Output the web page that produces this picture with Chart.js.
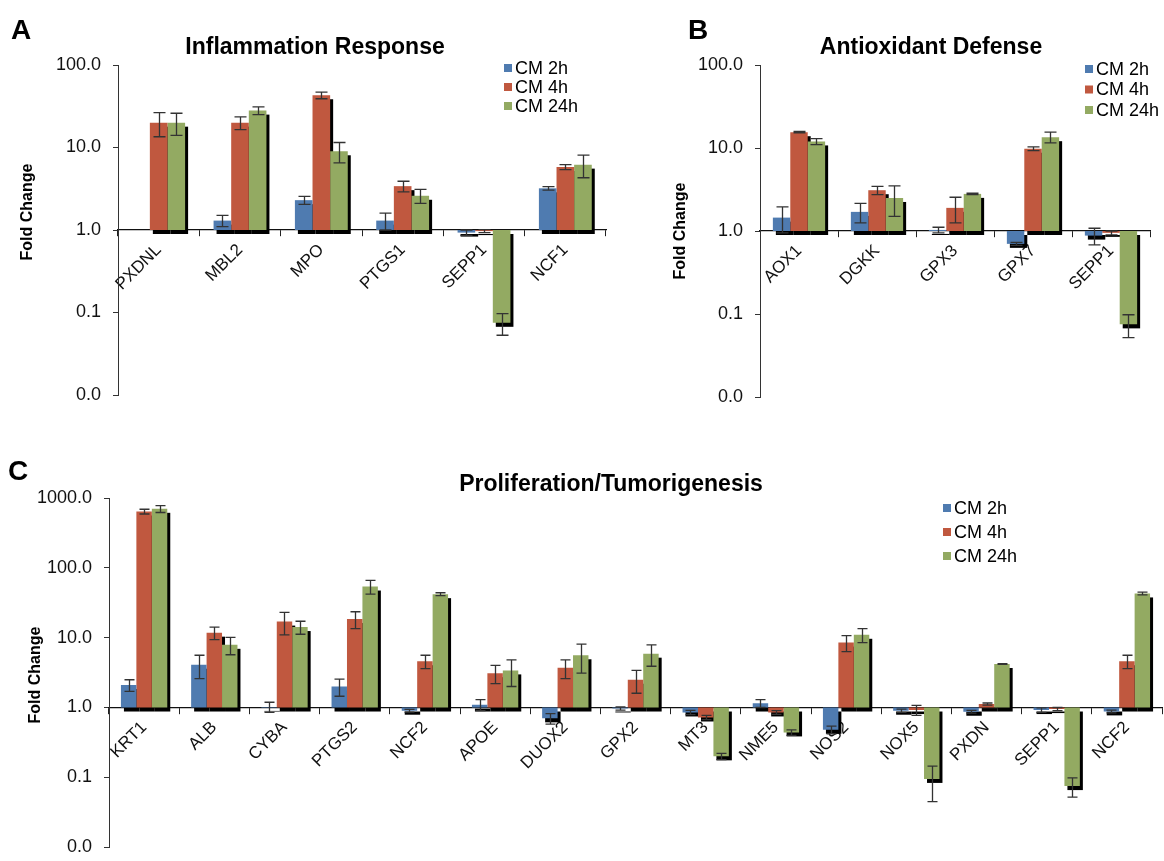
<!DOCTYPE html>
<html>
<head>
<meta charset="utf-8">
<script src="https://cdn.jsdelivr.net/npm/chart.js@4.4.1/dist/chart.umd.min.js"></script>
<style>
  html, body { margin: 0; padding: 0; background: #fff; overflow: hidden; width: 1164px; height: 861px; }
  canvas { position: absolute; }
</style>
</head>
<body>
<canvas id="chartA" width="620" height="420" style="left:0;top:0"></canvas>
<canvas id="chartB" width="524" height="420" style="left:640px;top:0"></canvas>
<canvas id="chartC" width="1164" height="430" style="left:0;top:440px"></canvas>
<script>
const seriesLabels = ["CM 2h", "CM 4h", "CM 24h"];
const seriesColors = ["#4f7bb0", "#c0583f", "#93aa62"];

// A - Inflammation Response
const inflamGenes = ["PXDNL", "MBL2", "MPO", "PTGS1", "SEPP1", "NCF1"];
const inflam2h = [null, 1.3, 2.3, 1.3, 0.93, 3.2];
const inflam4h = [20, 20, 43, 3.4, 0.97, 5.8];
const inflam24h = [20, 28, 9, 2.6, 0.075, 6.2];
const inflam2hErr = [null, 0.2, 0.25, 0.3, 0.07, 0.15];
const inflam4hErr = [6.5, 3.5, 4, 0.5, 0.04, 0.4];
const inflam24hErr = [6, 3, 2.5, 0.5, 0.022, 1.9];

// B - Antioxidant Defense
const antioxGenes = ["AOX1", "DGKK", "GPX3", "GPX7", "SEPP1"];
const antiox2h = [1.45, 1.7, 1.03, 0.7, 0.88];
const antiox4h = [15.5, 3.1, 1.9, 9.8, 0.95];
const antiox24h = [12, 2.5, 2.8, 13.5, 0.075];
const antiox2hErr = [0.5, 0.45, 0.08, 0.03, 0.2];
const antiox4hErr = [0.3, 0.35, 0.65, 0.5, 0.05];
const antiox24hErr = [1, 1.0, 0.05, 2, 0.023];

// C - Proliferation/Tumorigenesis
const prolifGenes = ["KRT1", "ALB", "CYBA", "PTGS2", "NCF2", "APOE", "DUOX2", "GPX2", "MT3", "NME5", "NOS2", "NOX5", "PXDN", "SEPP1", "NCF2"];
const prolif2h = [2.1, 4.1, 1.02, 2.0, 0.9, 1.1, 0.7, 0.97, 0.85, 1.15, 0.48, 0.9, 0.87, 0.92, 0.88];
const prolif4h = [640, 11.8, 17, 18.5, 4.6, 3.1, 3.7, 2.5, 0.72, 0.85, 8.5, 0.92, 1.12, 0.95, 4.6];
const prolif24h = [700, 7.9, 14.2, 54, 42, 3.4, 5.6, 5.9, 0.2, 0.44, 11, 0.095, 4.2, 0.075, 43];
const prolif2hErr = [0.4, 1.5, 0.17, 0.55, 0.04, 0.2, 0.12, 0.05, 0.06, 0.15, 0.06, 0.05, 0.04, 0.07, 0.04];
const prolif4hErr = [50, 2.4, 6, 5, 1.0, 0.9, 1.1, 0.9, 0.05, 0.05, 2.2, 0.15, 0.04, 0.05, 1.0];
const prolif24hErr = [80, 2.2, 3, 12, 2, 1.4, 2.5, 2, 0.02, 0.04, 2.5, 0.05, 0.05, 0.023, 2];

const yTicksAB = [0.01, 0.1, 1, 10, 100];
const yTicksC = [0.01, 0.1, 1, 10, 100, 1000];

const FONT = '"Liberation Sans", Arial, Helvetica, sans-serif';

// black drop shadow behind every bar (offset right/down)
const barShadow = {
  id: "barShadow",
  beforeDatasetsDraw(chart) {
    const ctx = chart.ctx;
    ctx.save();
    ctx.fillStyle = "#000";
    chart.data.datasets.forEach((ds, i) => {
      chart.getDatasetMeta(i).data.forEach((bar, j) => {
        if (ds.data[j] == null) return;
        const p = bar.getProps(["x", "y", "base", "width"], true);
        const top = Math.min(p.y, p.base), bottom = Math.max(p.y, p.base);
        ctx.fillRect(p.x - p.width / 2 + 3, top + 4, p.width, bottom - top);
      });
    });
    ctx.restore();
  }
};

// +/- error bars
const errorBars = {
  id: "errorBars",
  afterDatasetsDraw(chart, args, opts) {
    const ctx = chart.ctx, y = chart.scales.y;
    ctx.save();
    ctx.strokeStyle = "#333";
    ctx.lineWidth = 1.3;
    chart.data.datasets.forEach((ds, i) => {
      chart.getDatasetMeta(i).data.forEach((bar, j) => {
        const d = ds.data[j], e = ds.errors[j];
        if (d == null || e == null) return;
        const v = d[1];
        const hi = y.getPixelForValue(v + e);
        const lo = y.getPixelForValue(Math.max(v - e, 0.011));
        const x = Math.round(bar.x) + 0.5, c = opts.cap;
        ctx.beginPath();
        ctx.moveTo(x, hi); ctx.lineTo(x, lo);
        ctx.moveTo(x - c, hi); ctx.lineTo(x + c, hi);
        ctx.moveTo(x - c, lo); ctx.lineTo(x + c, lo);
        ctx.stroke();
      });
    });
    ctx.restore();
  }
};

// panel letter, title, y label and legend
const panelDecor = {
  id: "panelDecor",
  afterDraw(chart, args, o) {
    const ctx = chart.ctx;
    ctx.save();
    ctx.fillStyle = "#000";
    ctx.textBaseline = "middle";
    ctx.textAlign = "left";
    ctx.font = "bold 28px " + FONT;
    ctx.fillText(o.letter, o.letterX, o.letterY);
    ctx.textAlign = "center";
    ctx.font = "bold 23px " + FONT;
    ctx.fillText(o.title, o.titleX, o.titleY);
    ctx.save();
    ctx.translate(o.yLabelX, o.yLabelY);
    ctx.rotate(-Math.PI / 2);
    ctx.font = "bold 16px " + FONT;
    ctx.fillText("Fold Change", 0, 0);
    ctx.restore();
    ctx.textAlign = "left";
    ctx.font = "18px " + FONT;
    chart.data.datasets.forEach((ds, i) => {
      const ly = o.legendY + i * o.legendGap;
      ctx.fillStyle = ds.backgroundColor;
      ctx.fillRect(o.legendX, ly - 4, 8, 8);
      ctx.fillStyle = "#000";
      ctx.fillText(ds.label, o.legendX + 11, ly + 1);
    });
    ctx.restore();
  }
};

function makePanel(id, genes, values, errors, yTicks, cfg) {
  return new Chart(document.getElementById(id), {
    type: "bar",
    data: {
      labels: genes,
      datasets: seriesLabels.map((label, i) => ({
        label: label,
        data: values[i].map(v => (v == null ? null : [1, v])),
        errors: errors[i],
        backgroundColor: seriesColors[i],
        borderWidth: 0,
        categoryPercentage: cfg.catPct,
        barPercentage: 1
      }))
    },
    options: {
      responsive: false,
      animation: false,
      layout: { padding: cfg.padding },
      scales: {
        x: {
          type: "category",
          position: { y: 1 },
          grid: { drawOnChartArea: false, tickLength: 6, color: "#222", offset: true },
          border: { color: "#111", width: 1.2 },
          ticks: {
            minRotation: 45, maxRotation: 45, autoSkip: false, padding: 4,
            color: "#111", font: { family: FONT, size: 17 }
          }
        },
        y: {
          type: "logarithmic",
          min: yTicks[0],
          max: yTicks[yTicks.length - 1],
          afterFit: s => { s.width = cfg.yWidth; },
          afterBuildTicks: s => { s.ticks = yTicks.map(v => ({ value: v })); },
          grid: { drawOnChartArea: false, tickLength: 5, color: "#333" },
          border: { color: "#333", width: 1 },
          ticks: {
            padding: 12, color: "#111", font: { family: FONT, size: 18 },
            callback: v => Number(v).toFixed(1)
          }
        }
      },
      plugins: {
        legend: { display: false },
        tooltip: { enabled: false },
        errorBars: { cap: cfg.cap },
        panelDecor: cfg.decor
      }
    },
    plugins: [barShadow, errorBars, panelDecor]
  });
}

makePanel("chartA", inflamGenes,
  [inflam2h, inflam4h, inflam24h],
  [inflam2hErr, inflam4hErr, inflam24hErr],
  yTicksAB, {
    catPct: 0.65, yWidth: 118, cap: 6,
    padding: { left: 0, top: 65, right: 14, bottom: 25 },
    decor: {
      letter: "A", letterX: 11, letterY: 31,
      title: "Inflammation Response", titleX: 315, titleY: 48,
      yLabelX: 28, yLabelY: 212,
      legendX: 504, legendY: 68, legendGap: 19
    }
  });

makePanel("chartB", antioxGenes,
  [antiox2h, antiox4h, antiox24h],
  [antiox2hErr, antiox4hErr, antiox24hErr],
  yTicksAB, {
    catPct: 0.67, yWidth: 120, cap: 6,
    padding: { left: 0, top: 65, right: 14, bottom: 23 },
    decor: {
      letter: "B", letterX: 48, letterY: 31,
      title: "Antioxidant Defense", titleX: 291, titleY: 48,
      yLabelX: 41, yLabelY: 231,
      legendX: 445, legendY: 69, legendGap: 20.5
    }
  });

makePanel("chartC", prolifGenes,
  [prolif2h, prolif4h, prolif24h],
  [prolif2hErr, prolif4hErr, prolif24hErr],
  yTicksC, {
    catPct: 0.66, yWidth: 109, cap: 5,
    padding: { left: 0, top: 58, right: 2, bottom: 18 },
    decor: {
      letter: "C", letterX: 8, letterY: 32,
      title: "Proliferation/Tumorigenesis", titleX: 611, titleY: 45,
      yLabelX: 36, yLabelY: 235,
      legendX: 943, legendY: 68, legendGap: 24
    }
  });
</script>
</body>
</html>
